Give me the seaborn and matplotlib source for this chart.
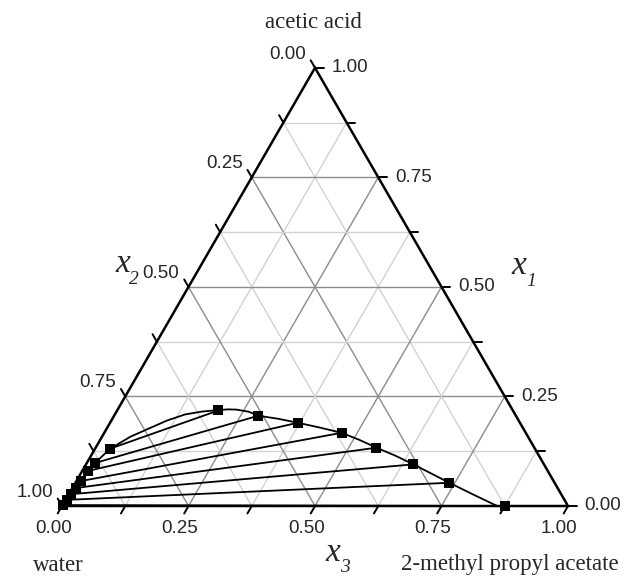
import numpy as np
import pandas as pd
import matplotlib
matplotlib.use("Agg")
import matplotlib.pyplot as plt
import seaborn as sns

sns.set_style("white")
plt.rcParams['font.family'] = ['Liberation Sans', 'DejaVu Sans']

# tie line ends: x1 = acetic acid, x3 = 2-methyl propyl acetate
aq_x1 = [0.131, 0.098, 0.080, 0.057, 0.041, 0.027, 0.014, 0.002]
aq_x3 = [0.030, 0.016, 0.011, 0.009, 0.007, 0.005, 0.003, 0.001]
org_x1 = [0.218, 0.206, 0.190, 0.167, 0.133, 0.095, 0.053, 0.000]
org_x3 = [0.200, 0.285, 0.371, 0.469, 0.555, 0.647, 0.739, 0.875]

# binodal curve
bin_x1 = [0.002, 0.014, 0.027, 0.041, 0.057, 0.080, 0.098, 0.131,
          0.158, 0.178, 0.195, 0.209, 0.2155, 0.219, 0.2205, 0.220,
          0.215, 0.206, 0.199, 0.190, 0.179, 0.167, 0.151, 0.133,
          0.115, 0.095, 0.074, 0.053, 0.026, 0.000]
bin_x3 = [0.001, 0.003, 0.005, 0.007, 0.009, 0.011, 0.016, 0.030,
          0.056, 0.085, 0.110, 0.139, 0.169, 0.200, 0.218, 0.235,
          0.262, 0.285, 0.328, 0.371, 0.420, 0.469, 0.512, 0.555,
          0.601, 0.647, 0.693, 0.739, 0.800, 0.860]

tick_vals = [0.0, 0.125, 0.25, 0.375, 0.5, 0.625, 0.75, 0.875, 1.0]
tick_labels = ['0.00', '0.25', '0.50', '0.75', '1.00']

H = np.sqrt(3) / 2


def to_xy(x1, x3):
    x1 = np.asarray(x1, dtype=float)
    x3 = np.asarray(x3, dtype=float)
    return x3 + x1 / 2, x1 * H


def px(x, y):
    return (x - 62) / 506, (506 - y) / 506


fig = plt.figure(figsize=(6.24, 5.77), dpi=100)
ax = fig.add_axes([0, 0, 1, 1])
ax.set_xlim(-62 / 506, 562 / 506)
ax.set_ylim(-71 / 506, 506 / 506)
ax.set_aspect('equal')
ax.axis('off')

# grid
for c in tick_vals[1:-1]:
    major = abs((c / 0.25) - round(c / 0.25)) < 1e-9
    col = '#8c8c8c' if major else '#d2d2d2'
    for a, b in [((c, 0), (c, 1 - c)),          # const x1
                 ((0, c), (1 - c, c)),          # const x3
                 ((0, 1 - c), (1 - c, 0))]:     # const x2
        X, Y = to_xy([a[0], b[0]], [a[1], b[1]])
        ax.plot(X, Y, color=col, lw=1.0, zorder=1)

# triangle
TX, TY = to_xy([0, 0, 1, 0], [0, 1, 0, 0])
ax.plot(TX, TY, color='black', lw=1.8, zorder=3, solid_joinstyle='miter')

# ticks
L = 0.017
for v in tick_vals:
    X, Y = to_xy(0, v)
    ax.plot([X, X - 0.5 * L], [Y, Y - H * L], color='black', lw=1.4, zorder=3)
    X, Y = to_xy(v, 1 - v)
    ax.plot([X, X + L], [Y, Y], color='black', lw=1.4, zorder=3)
    X, Y = to_xy(1 - v, 0)
    ax.plot([X, X - 0.5 * L], [Y, Y + H * L], color='black', lw=1.4, zorder=3)

fs = 13.5
for i, lab in enumerate(tick_labels):
    v = i * 0.25
    X, Y = to_xy(0, v)
    ax.text(X - 0.017, Y - 0.045, lab, ha='center', va='center', fontsize=fs)
    X, Y = to_xy(v, 1 - v)
    ax.text(X + 0.033, Y, lab, ha='left', va='center', fontsize=fs)
    X, Y = to_xy(1 - v, 0)
    ax.text(X - 0.018, Y + 0.027, lab, ha='right', va='center', fontsize=fs)

# tie lines
rows = []
for k in range(len(aq_x1)):
    for x1, x3 in [(aq_x1[k], aq_x3[k]), (org_x1[k], org_x3[k])]:
        X, Y = to_xy(x1, x3)
        rows.append({'tie': k, 'X': float(X), 'Y': float(Y)})
ties = pd.DataFrame(rows)
sns.lineplot(data=ties, x='X', y='Y', units='tie', estimator=None, sort=False,
             color='black', lw=1.3, ax=ax, zorder=4, legend=False)

# binodal
BX, BY = to_xy(bin_x1, bin_x3)
binodal = pd.DataFrame({'X': BX, 'Y': BY})
sns.lineplot(data=binodal, x='X', y='Y', sort=False, estimator=None,
             color='black', lw=1.3, ax=ax, zorder=4)

# experimental points
pX, pY = to_xy(aq_x1 + org_x1, aq_x3 + org_x3)
pts = pd.DataFrame({'X': pX, 'Y': pY})
sns.scatterplot(data=pts, x='X', y='Y', marker='s', s=52, color='black',
                edgecolor='black', linewidth=0, ax=ax, zorder=5)

ax.set_xlabel('')
ax.set_ylabel('')

# labels
serif = ['Liberation Serif', 'DejaVu Serif']
ax.text(*px(313, 28), 'acetic acid', ha='center', va='baseline',
        fontsize=16.5, family=serif)
ax.text(*px(58, 571), 'water', ha='center', va='baseline',
        fontsize=16.5, family=serif)
ax.text(*px(510, 570), '2-methyl propyl acetate',
        ha='center', va='baseline', fontsize=16.5, family=serif)

for (xx, yy), (sx, sy), sub in [((123, 264), (134, 280), '2'),
                                ((519, 266), (531, 282), '1'),
                                ((333, 553), (345, 567), '3')]:
    ax.text(*px(xx, yy), 'x', ha='center', va='center', fontsize=24,
            family=serif, style='italic')
    ax.text(*px(sx, sy), sub, ha='center', va='center', fontsize=14,
            family=serif, style='italic')

fig.savefig('out.png', dpi=100)
